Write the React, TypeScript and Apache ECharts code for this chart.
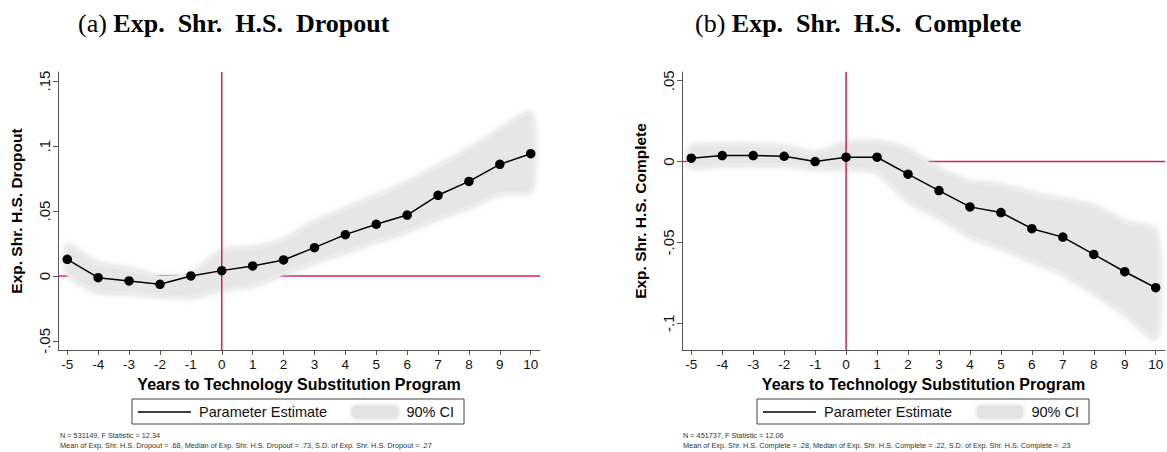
import React, { useEffect, useRef } from "react";
import * as echarts from "echarts";

const years = [-5, -4, -3, -2, -1, 0, 1, 2, 3, 4, 5, 6, 7, 8, 9, 10];

const dropoutEst = [0.0128, -0.0013, -0.0038, -0.0064, 0.0, 0.0041, 0.0077, 0.0123, 0.0218, 0.0318, 0.0398, 0.0469, 0.0621, 0.0728, 0.0859, 0.0941];
const dropoutLo = [0.002, -0.012, -0.013, -0.015, -0.016, -0.01, -0.007, 0.002, 0.011, 0.019, 0.027, 0.035, 0.045, 0.053, 0.064, 0.066];
const dropoutHi = [0.023, 0.009, 0.005, -0.001, 0.001, 0.019, 0.021, 0.027, 0.041, 0.051, 0.061, 0.071, 0.084, 0.097, 0.112, 0.125];

const completeEst = [0.0021, 0.0037, 0.0037, 0.0033, 0.0, 0.0027, 0.0027, -0.0078, -0.0179, -0.028, -0.0315, -0.0415, -0.0467, -0.0574, -0.0681, -0.078];
const completeLo = [-0.003, -0.002, -0.002, -0.002, -0.004, -0.004, -0.006, -0.024, -0.034, -0.046, -0.053, -0.061, -0.069, -0.081, -0.094, -0.109];
const completeHi = [0.009, 0.01, 0.01, 0.009, 0.005, 0.011, 0.012, 0.007, -0.005, -0.013, -0.015, -0.02, -0.024, -0.028, -0.038, -0.043];

const dropoutTicks = [-0.05, 0, 0.05, 0.1, 0.15];
const completeTicks = [-0.1, -0.05, 0, 0.05];

const xName = "Years to Technology Substitution Program";
const legendLine = "Parameter Estimate";
const legendBand = "90% CI";

const titleA = ["(a) ", "Exp.  Shr.  H.S.  Dropout"];
const titleB = ["(b) ", "Exp.  Shr.  H.S.  Complete"];
const yNameA = "Exp. Shr. H.S. Dropout";
const yNameB = "Exp. Shr. H.S. Complete";

const noteA = [
  "N = 531149, F Statistic = 12.34",
  "Mean of Exp. Shr. H.S. Dropout = .68, Median of Exp. Shr. H.S. Dropout = .73, S.D. of Exp. Shr. H.S. Dropout = .27",
];
const noteB = [
  "N = 451737, F Statistic = 12.06",
  "Mean of Exp. Shr. H.S. Complete = .28, Median of Exp. Shr. H.S. Complete = .22, S.D. of Exp. Shr. H.S. Complete = .23",
];

const RED = "#cf2457";
const AXIS = "#555";
const SANS = "Liberation Sans, Arial, sans-serif";
const SERIF = "Liberation Serif, Times New Roman, serif";

function fmt(v: number): string {
  if (Math.abs(v) < 1e-9) return "0";
  let s = String(Math.round(v * 100) / 100);
  s = s.replace("0.", ".");
  return s;
}

function panel(idx: number, est: number[], lo: number[], hi: number[], ymin: number, ymax: number, ticks: number[], yName: string) {
  const xAxis = {
    type: "value",
    gridIndex: idx,
    min: -5.3,
    max: 10.3,
    splitLine: { show: false },
    axisLine: { show: true, onZero: false, lineStyle: { color: AXIS, width: 1 } },
    axisTick: { show: true, length: 5, customValues: years, lineStyle: { color: AXIS } },
    axisLabel: { customValues: years, fontSize: 13.5, color: "#111", margin: 7, fontFamily: SANS, formatter: (v: number) => String(v) },
    name: xName,
    nameLocation: "middle",
    nameGap: 26,
    nameTextStyle: { fontWeight: "bold", fontSize: 16, color: "#000", fontFamily: SANS },
  };
  const yAxis = {
    type: "value",
    gridIndex: idx,
    min: ymin,
    max: ymax,
    splitLine: { show: false },
    axisLine: { show: true, onZero: false, lineStyle: { color: AXIS, width: 1 } },
    axisTick: { show: true, length: 5, customValues: ticks, lineStyle: { color: AXIS } },
    axisLabel: { customValues: ticks, rotate: 90, fontSize: 15, color: "#111", margin: 6, fontFamily: SANS, formatter: (v: number) => fmt(v) },
    name: yName,
    nameLocation: "middle",
    nameGap: 34,
    nameTextStyle: { fontWeight: "bold", fontSize: 15.5, color: "#000", fontFamily: SANS },
  };
  const series = [
    {
      type: "line",
      xAxisIndex: idx,
      yAxisIndex: idx,
      data: [[-5.3, 0], [10.3, 0]],
      symbol: "none",
      lineStyle: { color: RED, width: 1.5 },
      z: 1,
      silent: true,
    },
    {
      type: "custom",
      xAxisIndex: idx,
      yAxisIndex: idx,
      data: years.map((y, i) => [y, lo[i], hi[i]]),
      z: 2,
      silent: true,
      renderItem: (params: any, api: any) => {
        if (params.dataIndex !== 0) return null;
        const pts: number[][] = [];
        for (let i = 0; i < years.length; i++) pts.push(api.coord([years[i], hi[i]]));
        for (let i = years.length - 1; i >= 0; i--) pts.push(api.coord([years[i], lo[i]]));
        return {
          type: "polygon",
          shape: { points: pts, smooth: 0.2 },
          style: { fill: "#e6e6e6", stroke: "#ececec", lineWidth: 3, shadowBlur: 6, shadowColor: "rgba(215,215,215,0.9)" },
        };
      },
    },
    {
      type: "line",
      xAxisIndex: idx,
      yAxisIndex: idx,
      data: [[0, ymin], [0, ymax]],
      symbol: "none",
      lineStyle: { color: RED, width: 1.5 },
      z: 3,
      silent: true,
    },
    {
      type: "line",
      xAxisIndex: idx,
      yAxisIndex: idx,
      data: years.map((y, i) => [y, est[i]]),
      symbol: "circle",
      symbolSize: 9.5,
      itemStyle: { color: "#000" },
      lineStyle: { color: "#000", width: 1.5 },
      z: 4,
      silent: true,
    },
  ];
  return { xAxis, yAxis, series };
}

function legend(left: number, top: number) {
  return {
    type: "group",
    x: left,
    y: top,
    children: [
      { type: "rect", shape: { x: 0, y: 0, width: 332, height: 25 }, style: { fill: "#fff", stroke: "#444", lineWidth: 1 } },
      { type: "line", shape: { x1: 6, y1: 13, x2: 59, y2: 13 }, style: { stroke: "#000", lineWidth: 1.5 } },
      { type: "text", x: 67, y: 13, style: { text: legendLine, fontSize: 14.5, fontFamily: SANS, fill: "#111", verticalAlign: "middle", align: "left" } },
      { type: "rect", shape: { x: 220, y: 7, width: 46, height: 12, r: 4 }, style: { fill: "#e3e3e3", shadowBlur: 5, shadowColor: "rgba(200,200,200,0.9)" } },
      { type: "text", x: 322, y: 13, style: { text: legendBand, fontSize: 14.5, fontFamily: SANS, fill: "#111", verticalAlign: "middle", align: "right" } },
    ],
  };
}

function notes(left: number, lines: string[]) {
  return lines.map((t, i) => ({
    type: "text",
    x: left,
    y: 435 + i * 10,
    style: { text: t, fontSize: 7.3, fontFamily: SANS, fill: "#333", verticalAlign: "middle", align: "left" },
  }));
}

function title(x: number, parts: string[]) {
  return {
    type: "text",
    x,
    y: 23,
    style: {
      text: "{a|" + parts[0] + "}{b|" + parts[1] + "}",
      verticalAlign: "middle",
      align: "left",
      rich: {
        a: { fontSize: 26, fontFamily: SERIF, fill: "#000", fontWeight: "normal" },
        b: { fontSize: 26, fontFamily: SERIF, fill: "#000", fontWeight: "bold" },
      },
    },
  };
}

export default function App() {
  const ref = useRef<HTMLDivElement>(null);
  useEffect(() => {
    if (!ref.current) return;
    const chart = echarts.init(ref.current, null, { renderer: "svg" });
    const a = panel(0, dropoutEst, dropoutLo, dropoutHi, -0.057, 0.157, dropoutTicks, yNameA);
    const b = panel(1, completeEst, completeLo, completeHi, -0.1165, 0.0554, completeTicks, yNameB);
    chart.setOption({
      animation: false,
      backgroundColor: "#fff",
      grid: [
        { left: 58, right: 1167 - 540, top: 72, bottom: 452 - 350 },
        { left: 682, right: 2, top: 72, bottom: 452 - 350 },
      ],
      xAxis: [a.xAxis, b.xAxis],
      yAxis: [a.yAxis, b.yAxis],
      series: [...a.series, ...b.series],
      graphic: [
        title(78, titleA),
        title(695, titleB),
        legend(132, 399),
        legend(757, 399),
        ...notes(60, noteA),
        ...notes(683, noteB),
      ],
    });
    return () => chart.dispose();
  }, []);
  return <div ref={ref} style={{ position: "absolute", left: 0, top: 0, width: 1167, height: 452 }} />;
}
